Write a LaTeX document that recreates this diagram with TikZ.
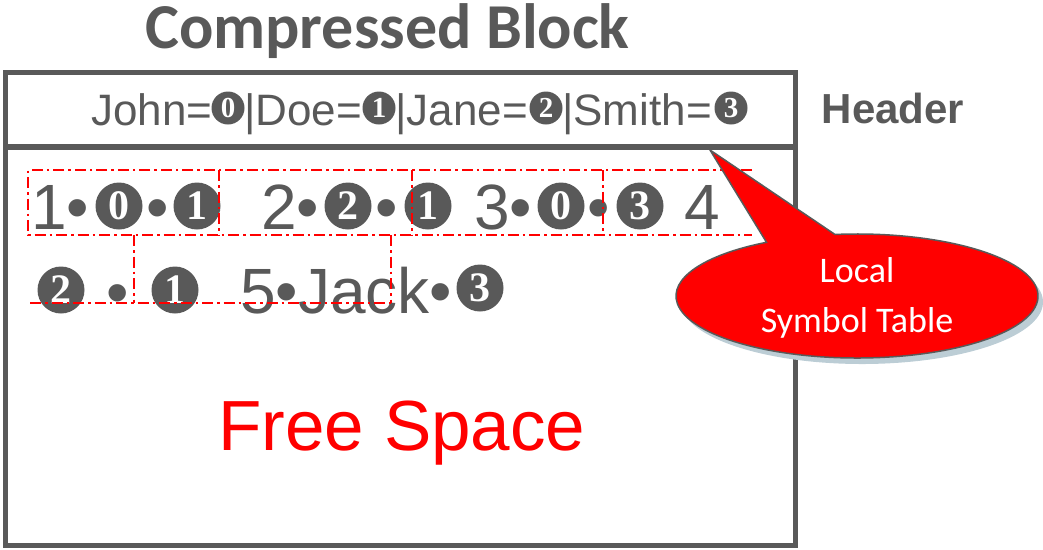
\documentclass[tikz,border=0pt]{standalone}
\usepackage{fontspec}
\setmainfont{Liberation Sans}
\newfontfamily\calibri{Carlito}
\newfontfamily\serifb{Liberation Serif}
\definecolor{dg}{HTML}{595959}
\definecolor{rd}{HTML}{FF0000}
\definecolor{shadowc}{HTML}{BCCDD5}
\newcommand\fs[1]{\fontsize{#1}{#1}\selectfont}
\begin{document}
\begin{tikzpicture}[x=1pt,y=-1pt,
  txt/.style={inner sep=0pt,anchor=base,text=dg},
  big/.style={txt,font=\fs{64}},
  hdtxt/.style={txt,anchor=base west,font=\fs{44}},
  cdb/.style={circle,fill=dg,text=white,inner sep=0pt,minimum size=47pt,font=\serifb\bfseries\fs{42}},
  cdh/.style={circle,fill=dg,text=white,inner sep=0pt,minimum size=33pt,font=\serifb\bfseries\fs{29}},
  recline/.style={draw=rd,line width=1.8pt,dash pattern=on 11pt off 4pt on 2.5pt off 4pt},
  boxline/.style={draw=dg,line width=5.5pt},
  calltxt/.style={inner sep=0pt,anchor=base,text=white,font=\calibri\fs{36}}]
\useasboundingbox (0,0) rectangle (1043,549);

% title and label
\node[txt,font=\calibri\bfseries\fs{64}] (title) at (387.5,48) {Compressed Block};
\node[txt,font=\bfseries\fs{42}] (hlabel) at (893,123) {Header};

% frames
\draw[boxline] (5.5,72.5) rectangle (795.5,147);
\draw[boxline] (5.5,147) rectangle (795.5,545.5);

% header content
\node[hdtxt] (h1) at (91,125) {John=};
\node[cdh] (hc0) at (228,108) {0};
\node[hdtxt] (h2) at (244,125) {|Doe=};
\node[cdh] (hc1) at (379,108) {1};
\node[hdtxt] (h3) at (395,125) {|Jane=};
\node[cdh] (hc2) at (546,108) {2};
\node[hdtxt] (h4) at (562,125) {|Smith=};
\node[cdh] (hc3) at (731,108) {3};

% row 1
\node[big,anchor=base west] (r1a) at (31,229) {1•};
\node[cdb] (r1b) at (119,206) {0};
\node[big] (r1c) at (158,229) {•};
\node[cdb] (r1d) at (197,206) {1};
\node[big,anchor=base west] (r1e) at (261,229) {2•};
\node[cdb] (r1f) at (348,206) {2};
\node[big] (r1g) at (387,229) {•};
\node[cdb] (r1h) at (428,206) {1};
\node[big,anchor=base west] (r1i) at (474,229) {3•};
\node[cdb] (r1j) at (561,206) {0};
\node[big] (r1k) at (599,229) {•};
\node[cdb] (r1l) at (640,206) {3};
\node[big] (r1m) at (702,229) {4};

% row 2
\node[cdb] (r2a) at (61,290) {2};
\node[big] (r2b) at (118,314) {•};
\node[cdb] (r2c) at (175,290) {1};
\node[big,anchor=base west] (r2d) at (240,313) {5•Jack•};
\node[cdb] (r2e) at (480,288) {3};

% record boundaries
\draw[recline] (752,170) -- (28,170) -- (28,235) -- (752,235);
\draw[recline] (219,170) -- (219,235);
\draw[recline] (412,170) -- (412,235);
\draw[recline] (603,170) -- (603,235);
\draw[recline] (134,235) -- (134,303);
\draw[recline] (391,235) -- (391,303);
\draw[recline] (30,303) -- (391,303);

% free space
\node[txt,text=rd,font=\fs{71}] (free) at (402,450) {Free Space};

% callout
\coordinate (tipS) at (715,156);
\coordinate (ceS) at (862,302);
\coordinate (tip) at (710,150);
\coordinate (ce) at (857,296);
\fill[shadowc] (tipS) -- ([shift={(-97:181 and 62)}]ceS)
   arc[start angle=-97,end angle=240,x radius=181,y radius=62] -- cycle;
\draw[fill=rd,draw=dg,line width=1.5pt] (tip) -- ([shift={(-97:181 and 62)}]ce)
   arc[start angle=-97,end angle=240,x radius=181,y radius=62] -- cycle;
\node[calltxt] (loc1) at (857,282) {Local};
\node[calltxt] (loc2) at (857,332) {Symbol Table};
\end{tikzpicture}
\end{document}
